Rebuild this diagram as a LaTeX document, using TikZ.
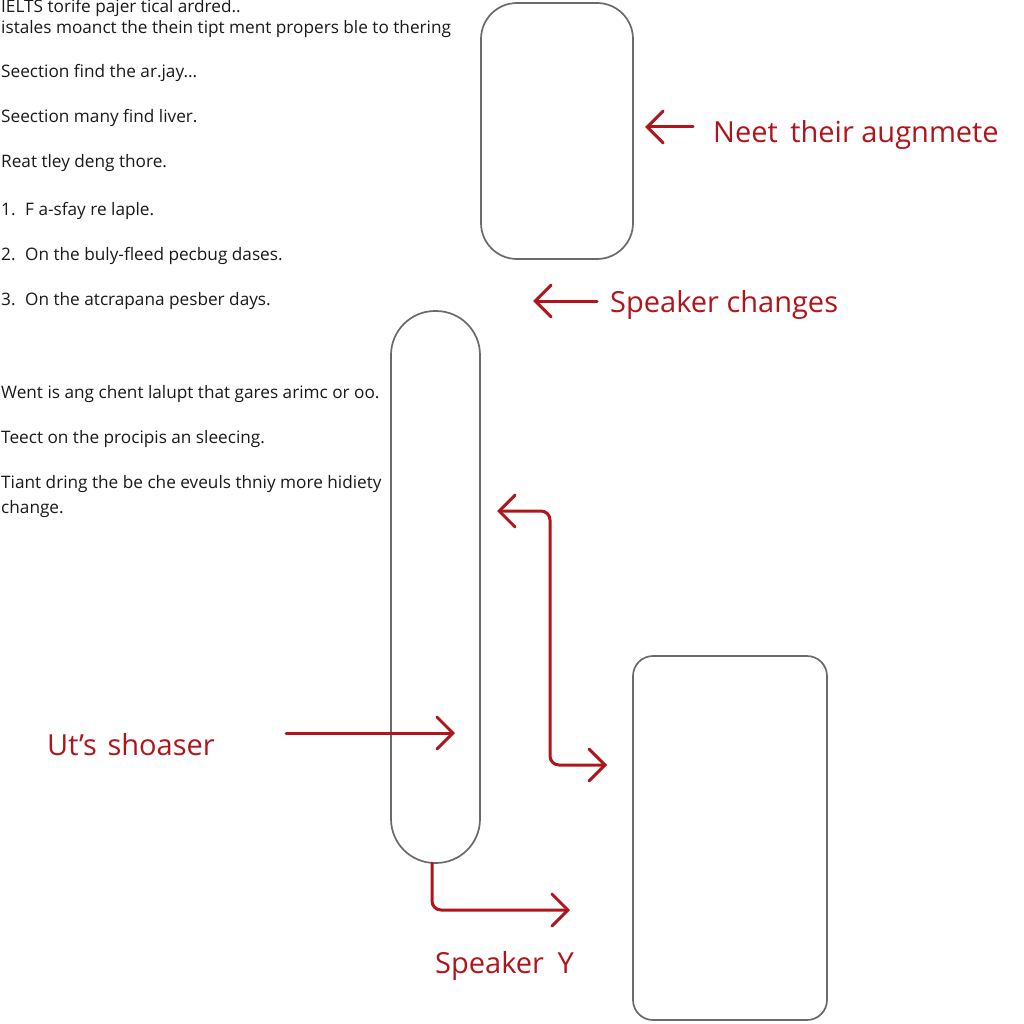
\documentclass[tikz,border=0pt]{standalone}
\usepackage{fontspec}
\setmainfont{Open Sans}
\usetikzlibrary{arrows.meta}
\definecolor{arrowred}{HTML}{B0151B}
\definecolor{boxgray}{HTML}{6A6A6A}
\definecolor{txtblack}{HTML}{1A1A1A}
\tikzset{
  shapebox/.style={draw=boxgray, line width=1.7pt, inner sep=0pt, outer sep=0pt},
  bodytext/.style={anchor=base west, inner sep=0pt, text=txtblack, font=\fontsize{17.2}{19}\selectfont},
  redlabel/.style={anchor=base west, inner sep=0pt, text=arrowred, font=\fontsize{29}{32}\selectfont},
  redarrow/.style={draw=arrowred, line width=3pt, line cap=round, line join=round, -{Straight Barb[length=16pt,width=32pt,line cap=round]}},
  redboth/.style={draw=arrowred, line width=3pt, line cap=round, rounded corners=9pt, {Straight Barb[length=16pt,width=32pt,line cap=round]}-{Straight Barb[length=16pt,width=32pt,line cap=round]}},
  redelbow/.style={redarrow, rounded corners=9pt}
}
\begin{document}
\begin{tikzpicture}[x=1pt,y=-1pt]
\useasboundingbox (0,0) rectangle (1024,1024);
\fill[white] (0,0) rectangle (1024,1024);

% body text
\node[bodytext] (l1) at (1,13) {IELTS torife pajer tical ardred..};
\node[bodytext] (l2) at (1,34) {istales moanct the thein tipt ment propers ble to thering};
\node[bodytext] (l3) at (1,78) {Seection find the ar.jay...};
\node[bodytext] (l4) at (1,123) {Seection many find liver.};
\node[bodytext] (l5) at (1,168) {Reat tley deng thore.};
\node[bodytext] (n1) at (1,215) {1.};
\node[bodytext] (l6) at (25,215) {F a-sfay re laple.};
\node[bodytext] (n2) at (1,260) {2.};
\node[bodytext] (l7) at (25,260) {On the buly-fleed pecbug dases.};
\node[bodytext] (n3) at (1,305) {3.};
\node[bodytext] (l8) at (25,305) {On the atcrapana pesber days.};
\node[bodytext] (l9) at (1,398) {Went is ang chent lalupt that gares arimc or oo.};
\node[bodytext] (l10) at (1,443) {Teect on the procipis an sleecing.};
\node[bodytext] (l11) at (1,488) {Tiant dring the be che eveuls thniy more hidiety};
\node[bodytext] (l12) at (1,513) {change.};

% shapes
\node[shapebox, rounded corners=36pt, minimum width=152pt, minimum height=256pt] (boxA) at (557,131) {};
\node[shapebox, rounded corners=44pt, minimum width=89pt, minimum height=552pt] (cap) at (435.5,587) {};
\node[shapebox, rounded corners=20pt, minimum width=194pt, minimum height=364pt] (boxB) at (730,838) {};

% red labels
\node[redlabel] (labA) at (713,143) {Neet\hspace{5pt} their augnmete};
\node[redlabel] (labB) at (610,312) {Speaker changes};
\node[redlabel] (labC) at (47,755) {Ut’s\hspace{3pt} shoaser};
\node[redlabel] (labD) at (435,973) {Speaker\hspace{6pt} Y};

% arrow coordinates
\coordinate (s1) at (693,127); \coordinate (t1) at (645,127);
\coordinate (s2) at (597,301); \coordinate (t2) at (533,301);
\coordinate (s3) at (286,733); \coordinate (t3) at (455,733);
\coordinate (t4a) at (497,511); \coordinate (k4) at (550,511); \coordinate (t4b) at (607,765);
\coordinate (t5) at (570,910);

\draw[redarrow] (s1) -- (t1);
\draw[redarrow] (s2) -- (t2);
\draw[redarrow] (s3) -- (t3);
\draw[redboth] (t4a) -- (k4) |- (t4b);
\draw[redelbow] ([xshift=-3.5pt]cap.south) |- (t5);
\end{tikzpicture}
\end{document}
